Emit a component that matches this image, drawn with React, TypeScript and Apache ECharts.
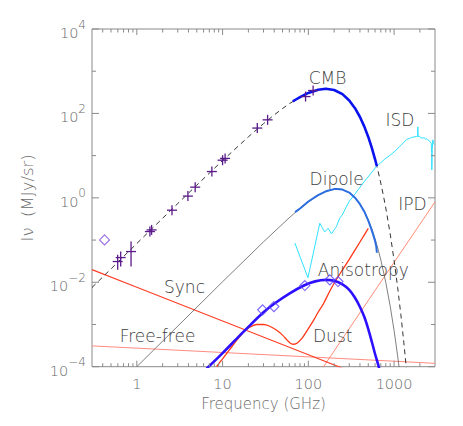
import React, { useEffect, useRef } from "react";
import * as echarts from "echarts";

const FONT = "DejaVu Sans";
const FONT_WEIGHT = 200;
const AXIS_GREY = "#8a8a8a";
const TEXT_GREY = "#6a6a6a";
const LABEL_GREY = "#404040";

// ---------- axis ticks ----------
const xMajorTicks = [1, 10, 100, 1000];
const xMinorTicks = [
  0.4, 0.5, 0.6, 0.7, 0.8, 0.9,
  2, 3, 4, 5, 6, 7, 8, 9,
  20, 30, 40, 50, 60, 70, 80, 90,
  200, 300, 400, 500, 600, 700, 800, 900,
  2000,
];
const yMajorTicks = [1e-4, 1e-2, 1, 1e2, 1e4];
const yMinorTicks = [1e-3, 1e-1, 1e1, 1e3];

// ---------- series data: [GHz, MJy/sr] ----------
const cmbModel = [
  [0.3, 0.00751], [0.5, 0.0208], [1, 0.083], [2, 0.329], [3, 0.733], [5, 2.0],
  [10, 7.66], [20, 27.9], [30, 57.2], [40, 92.2], [50, 130.5], [60, 169.7],
  [80, 244], [100, 306], [130, 365], [160, 384], [200, 359], [250, 286],
  [300, 203], [350, 133], [400, 82.3], [450, 48.6], [500, 27.7], [550, 15.2],
  [600, 8.2], [650, 4.33], [700, 2.23], [750, 1.14], [800, 0.574], [900, 0.141],
  [1000, 0.0332], [1100, 0.0076], [1200, 0.0017], [1300, 3.67e-4], [1400, 7.9e-5],
];
const cmbMeasured = [
  [66, 193], [70, 208], [80, 244], [100, 306], [130, 365], [160, 384],
  [200, 359], [250, 286], [300, 203], [350, 133], [400, 82.3], [450, 48.6],
  [500, 27.7], [550, 15.2], [600, 8.2], [630, 5.6],
];
const dipoleModel = [
  [1, 1.0e-4], [10, 0.0103], [30, 0.0907], [60, 0.339], [70, 0.446], [100, 0.802],
  [130, 1.147], [160, 1.418], [200, 1.606], [217, 1.62], [250, 1.569], [300, 1.328],
  [350, 1.015], [400, 0.716], [450, 0.475], [500, 0.3], [550, 0.182], [600, 0.107],
  [650, 0.061], [700, 0.034], [800, 0.00996], [900, 0.00275], [1000, 7.2e-4],
  [1100, 1.81e-4], [1200, 4.4e-5],
];
const dipoleMeasured = [
  [70, 0.46], [80, 0.56], [100, 0.82], [130, 1.16], [160, 1.43], [200, 1.61],
  [217, 1.63], [250, 1.57], [300, 1.33], [350, 1.01], [400, 0.71], [450, 0.47],
  [500, 0.29], [550, 0.17], [600, 0.095], [620, 0.07], [630, 0.05],
];
const anisotropy = [
  [6.5, 9.0e-5], [10, 2.1e-4], [15, 4.9e-4], [20, 8.8e-4], [30, 1.95e-3],
  [40, 3.1e-3], [60, 5.4e-3], [90, 8.5e-3], [120, 1.05e-2], [160, 1.14e-2],
  [200, 1.08e-2], [250, 8.9e-3], [300, 6.6e-3], [350, 4.3e-3], [400, 2.6e-3],
  [450, 1.5e-3], [500, 7.8e-4], [550, 3.9e-4], [600, 2.0e-4], [650, 1.15e-4],
  [680, 8.0e-5],
];
const dust = [
  [8.5, 1.0e-4], [10, 1.54e-4], [12, 2.5e-4], [15, 4.5e-4], [18, 7.0e-4],
  [21, 8.7e-4], [25, 1.0e-3], [30, 1.0e-3], [35, 9.2e-4], [42, 7.5e-4],
  [50, 5.6e-4], [57, 4.2e-4], [63, 3.5e-4], [68, 3.4e-4], [75, 3.7e-4],
  [85, 4.8e-4], [100, 8.0e-4], [115, 1.25e-3], [130, 1.95e-3], [150, 3.1e-3],
  [175, 5.8e-3], [200, 9.5e-3], [250, 1.97e-2], [300, 3.5e-2], [400, 9.0e-2],
  [500, 0.19],
];
const sync = [[0.3, 0.02], [1, 0.0076], [10, 1.21e-3], [100, 1.92e-4], [300, 7.96e-5]];
const freeFree = [[0.3, 3.11e-4], [1, 2.75e-4], [10, 2.17e-4], [100, 1.71e-4], [1000, 1.35e-4], [3000, 1.2e-4]];
const ipd = [[140, 8.1e-5], [1000, 0.0297], [3000, 0.8]];
const isd = [
  [69.7, 0.085], [99, 0.0128], [136, 0.25], [155, 0.156], [170, 0.19], [186, 0.14],
  [213, 0.21], [232, 0.33], [248, 0.39], [277, 0.61], [302, 0.85], [332, 1.07],
  [380, 1.55], [434, 2.23], [520, 3.5], [621, 5.5], [780, 8.3], [968, 11.5],
  [1150, 16], [1387, 23.7], [1600, 27], [1813, 28.4], [1880, 28.6], [1892, 48],
  [1905, 28], [1980, 29], [2050, 26.5], [2163, 26], [2250, 26.8], [2330, 24.2],
  [2400, 25], [2473, 23.7], [2600, 22], [2709, 19.8], [2740, 12], [2754, 4.6],
  [2790, 14], [2826, 23.7], [2900, 19.5], [2960, 18],
];
// measured points with optional error bars: [GHz, value, low, high]
const crossPoints: number[][] = [
  [0.598, 0.031, 0.0197, 0.0446], [0.648, 0.0385, 0.0236, 0.0534],
  [0.856, 0.0534, 0.0236, 0.092], [1.42, 0.159], [1.486, 0.174], [2.57, 0.51],
  [3.94, 1.1], [4.79, 1.79], [7.5, 4.2], [10.0, 7.8], [10.7, 8.6], [25.4, 45],
  [33.5, 70.5], [92.8, 251], [113.7, 349],
];
const lowFreqDiamond = [[0.42, 0.101]];
const anisotropyDiamonds = [[29.3, 2.22e-3], [39.7, 2.65e-3], [91, 8.35e-3], [178, 0.0114], [222, 0.0104]];

function isDecade(v: number) {
  const e = Math.log10(v);
  return Math.abs(e - Math.round(e)) < 1e-6;
}

function lineSeries(name: string, data: number[][], color: string, width: number, z: number, extra: any = {}) {
  return {
    name,
    type: "line",
    data,
    showSymbol: false,
    symbol: "none",
    silent: true,
    z,
    lineStyle: { color, width, ...(extra.lineStyle || {}) },
    smooth: extra.smooth || false,
    clip: true,
  };
}

export default function App() {
  const ref = useRef<HTMLDivElement>(null);
  useEffect(() => {
    const chart = echarts.init(ref.current!, null, { renderer: "svg" });
    const xTicks = [
      ...xMajorTicks.map((v) => ({ v, len: 6 })),
      ...xMinorTicks.map((v) => ({ v, len: 3.5 })),
    ];
    const yTicks = [
      ...yMajorTicks.map((v) => ({ v, len: 7 })),
      ...yMinorTicks.map((v) => ({ v, len: 4 })),
    ];
    const tickStyle = { stroke: AXIS_GREY, lineWidth: 1 };
    const option: any = {
      animation: false,
      grid: {
        left: 92, right: 28, top: 29, bottom: 59.3,
        show: true, borderColor: AXIS_GREY, borderWidth: 1,
        backgroundColor: "transparent",
      },
      xAxis: {
        type: "log", logBase: 10, min: 0.3, max: 3000,
        axisLine: { show: false }, axisTick: { show: false },
        splitLine: { show: false }, minorTick: { show: false },
        axisLabel: {
          margin: 10, color: TEXT_GREY, fontFamily: FONT, fontWeight: FONT_WEIGHT, fontSize: 14.5,
          formatter: (v: number) => (isDecade(v) ? String(Math.round(v)) : ""),
        },
        name: "Frequency (GHz)", nameLocation: "middle", nameGap: 28,
        nameTextStyle: { color: TEXT_GREY, fontFamily: FONT, fontWeight: FONT_WEIGHT, fontSize: 15 },
      },
      yAxis: {
        type: "log", logBase: 10, min: 1e-4, max: 1e4,
        axisLine: { show: false }, axisTick: { show: false },
        splitLine: { show: false }, minorTick: { show: false },
        axisLabel: {
          margin: 6, color: TEXT_GREY,
          formatter: (v: number) => {
            const e = Math.round(Math.log10(v));
            if (e % 2 !== 0) return "";
            return `{b|10}{s|${e < 0 ? "\u2212" + -e : e}}`;
          },
          rich: {
            b: { fontFamily: FONT, fontWeight: FONT_WEIGHT, fontSize: 14.5, color: TEXT_GREY, padding: [8, 0, 0, 0] },
            s: { fontFamily: FONT, fontWeight: FONT_WEIGHT, fontSize: 12, color: TEXT_GREY, padding: [0, 0, 9, 0] },
          },
        },
        name: "I\u03BD  (MJy/sr)", nameLocation: "middle", nameGap: 56,
        nameTextStyle: { color: TEXT_GREY, fontFamily: FONT, fontWeight: FONT_WEIGHT, fontSize: 16.5 },
      },
      series: [
        {
          type: "custom", coordinateSystem: "cartesian2d", silent: true, clip: false, z: 10,
          data: xTicks.map((t) => [t.v, 1]),
          renderItem: (params: any, api: any) => {
            const cs = params.coordSys;
            const t = xTicks[params.dataIndex];
            const x = api.coord([t.v, 1])[0];
            const top = cs.y, bot = cs.y + cs.height;
            return {
              type: "group",
              children: [
                { type: "line", shape: { x1: x, y1: bot, x2: x, y2: bot - t.len }, style: tickStyle },
                { type: "line", shape: { x1: x, y1: top, x2: x, y2: top + t.len }, style: tickStyle },
              ],
            };
          },
        },
        {
          type: "custom", coordinateSystem: "cartesian2d", silent: true, clip: false, z: 10,
          data: yTicks.map((t) => [1, t.v]),
          renderItem: (params: any, api: any) => {
            const cs = params.coordSys;
            const t = yTicks[params.dataIndex];
            const y = api.coord([1, t.v])[1];
            const l = cs.x, r = cs.x + cs.width;
            return {
              type: "group",
              children: [
                { type: "line", shape: { x1: l, y1: y, x2: l + t.len, y2: y }, style: tickStyle },
                { type: "line", shape: { x1: r, y1: y, x2: r - t.len, y2: y }, style: tickStyle },
              ],
            };
          },
        },
        lineSeries("Free-free", freeFree, "#ff8c80", 1, 2),
        lineSeries("IPD", ipd, "#ff8068", 0.9, 2),
        lineSeries("Sync", sync, "#ff4028", 1.2, 2),
        lineSeries("Dipole model", dipoleModel, "#606060", 0.8, 2),
        lineSeries("CMB model", cmbModel, "#333333", 1, 2, { lineStyle: { type: [5, 4] } }),
        lineSeries("ISD", isd, "#30e2ff", 1, 3),
        lineSeries("Dust", dust, "#ff3818", 1.3, 3, { smooth: 0.3 }),
        lineSeries("Dipole", dipoleMeasured, "#2c6ee0", 2, 4),
        lineSeries("CMB", cmbMeasured, "#0a12ee", 2.6, 4),
        lineSeries("Anisotropy", anisotropy, "#2c10ff", 2.6, 5, { smooth: 0.3 }),
        {
          type: "custom", coordinateSystem: "cartesian2d", silent: true, clip: false, z: 6,
          data: crossPoints.map((d) => [d[0], d[1]]),
          renderItem: (params: any, api: any) => {
            const d = crossPoints[params.dataIndex];
            const p = api.coord([d[0], d[1]]);
            const lo = d.length > 2 ? api.coord([d[0], d[2]])[1] : p[1] + 5;
            const hi = d.length > 3 ? api.coord([d[0], d[3]])[1] : p[1] - 5;
            const st = { stroke: "#5a1a8c", lineWidth: 1.3 };
            return {
              type: "group",
              children: [
                { type: "line", shape: { x1: p[0] - 5, y1: p[1], x2: p[0] + 5, y2: p[1] }, style: st },
                { type: "line", shape: { x1: p[0], y1: hi, x2: p[0], y2: lo }, style: st },
              ],
            };
          },
        },
        {
          type: "scatter", data: lowFreqDiamond, symbol: "diamond", symbolSize: 10, silent: true, z: 6,
          itemStyle: { color: "rgba(255,255,255,0)", borderColor: "#8048e0", borderWidth: 1.1 },
        },
        {
          type: "scatter", data: anisotropyDiamonds, symbol: "diamond", symbolSize: 10, silent: true, z: 6,
          itemStyle: { color: "rgba(255,255,255,0)", borderColor: "#5a3cff", borderWidth: 1.1 },
        },
      ],
      graphic: [
        ["CMB", 327.5, 78.3],
        ["ISD", 400, 120],
        ["Dipole", 336.7, 178.5],
        ["IPD", 412.5, 204.2],
        ["Anisotropy", 363.3, 269.7],
        ["Dust", 332.7, 336],
        ["Sync", 184.5, 286.7],
        ["Free-free", 157.5, 335.8],
      ].map(([text, x, y]) => ({
        type: "text", x, y, silent: true, z: 20,
        style: {
          text, fill: LABEL_GREY, fontFamily: FONT, fontWeight: FONT_WEIGHT, fontSize: 17,
          align: "center", verticalAlign: "middle",
        },
      })),
    };
    chart.setOption(option);
    return () => chart.dispose();
  }, []);
  return (
    <div
      ref={ref}
      style={{ position: "absolute", left: 0, top: 0, width: 463, height: 426, background: "#fff" }}
    />
  );
}
